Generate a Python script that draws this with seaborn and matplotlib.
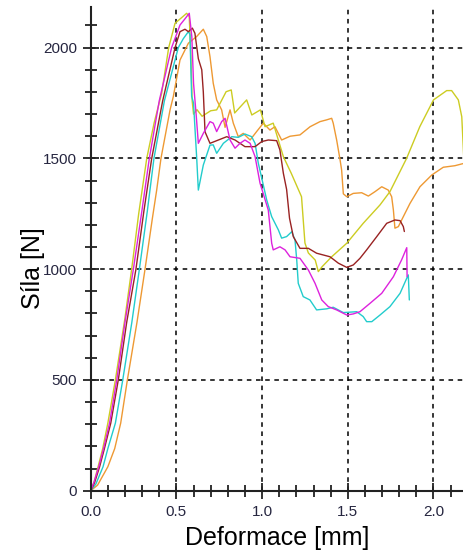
import matplotlib
matplotlib.use("Agg")
import matplotlib.pyplot as plt
import seaborn as sns
import pandas as pd
from matplotlib.ticker import MultipleLocator, FormatStrFormatter

# ---- data ----
yellow_x = [0, 0.02, 0.043, 0.07, 0.10, 0.144, 0.20, 0.239, 0.28, 0.327, 0.37, 0.414, 0.455, 0.492, 0.53, 0.56,
            0.575, 0.585, 0.592, 0.60, 0.62, 0.65, 0.70, 0.735, 0.79, 0.82, 0.84, 0.91, 0.94, 0.99, 1.017, 1.065,
            1.124, 1.17, 1.23, 1.25, 1.27, 1.31, 1.328, 1.35, 1.406, 1.494, 1.59, 1.688, 1.746, 1.843, 1.92, 2.0,
            2.077, 2.106, 2.145, 2.165, 2.18]
yellow_y = [0, 40, 108, 190, 305, 500, 780, 1000, 1250, 1500, 1660, 1794, 2000, 2110, 2135, 2155,
            2140, 1950, 1760, 1700, 1720, 1690, 1715, 1719, 1801, 1809, 1705, 1764, 1696, 1719, 1643, 1659,
            1508, 1433, 1327, 1118, 1073, 1041, 989, 1011, 1056, 1117, 1207, 1290, 1350, 1500, 1643, 1764,
            1806, 1806, 1764, 1688, 1450]

magenta_x = [0, 0.02, 0.047, 0.075, 0.11, 0.152, 0.20, 0.249, 0.30, 0.342, 0.40, 0.472, 0.521, 0.55, 0.575,
             0.59, 0.60, 0.615, 0.628, 0.657, 0.696, 0.715, 0.735, 0.764, 0.784, 0.813, 0.842, 0.871, 0.90,
             0.93, 0.959, 0.988, 1.007, 1.036, 1.056, 1.065, 1.104, 1.134, 1.163, 1.221, 1.27, 1.309, 1.348,
             1.386, 1.435, 1.494, 1.532, 1.571, 1.63, 1.698, 1.766, 1.814, 1.844, 1.846]
magenta_y = [0, 40, 108, 190, 305, 500, 760, 1000, 1270, 1500, 1760, 2000, 2102, 2130, 2155,
             2050, 1839, 1700, 1568, 1613, 1666, 1659, 1621, 1666, 1681, 1583, 1546, 1568, 1583,
             1568, 1508, 1388, 1340, 1267, 1117, 1087, 1101, 1087, 1056, 1049, 996, 936, 861,
             831, 816, 793, 798, 808, 846, 891, 966, 1042, 1097, 966]

brown_x = [0, 0.022, 0.052, 0.08, 0.117, 0.161, 0.21, 0.264, 0.31, 0.356, 0.42, 0.492, 0.521, 0.55, 0.57,
           0.593, 0.608, 0.628, 0.648, 0.657, 0.667, 0.696, 0.745, 0.794, 0.842, 0.90, 0.959, 0.998, 1.036,
           1.085, 1.104, 1.124, 1.143, 1.16, 1.182, 1.221, 1.27, 1.318, 1.396, 1.445, 1.494, 1.532, 1.571,
           1.61, 1.669, 1.727, 1.775, 1.805, 1.824, 1.83]
brown_y = [0, 35, 108, 190, 305, 500, 760, 1000, 1260, 1500, 1760, 2000, 2072, 2083, 2072,
           2088, 2065, 1950, 1900, 1800, 1620, 1568, 1583, 1598, 1583, 1553, 1553, 1576, 1583,
           1580, 1538, 1433, 1360, 1230, 1147, 1094, 1094, 1072, 1056, 1027, 1008, 1019, 1049,
           1087, 1147, 1207, 1222, 1219, 1192, 1170]

cyan_x = [0, 0.03, 0.072, 0.10, 0.144, 0.187, 0.24, 0.284, 0.33, 0.369, 0.43, 0.511, 0.54, 0.57, 0.579,
          0.589, 0.60, 0.608, 0.618, 0.628, 0.657, 0.696, 0.715, 0.735, 0.774, 0.823, 0.861, 0.90, 0.939,
          0.959, 0.978, 1.007, 1.027, 1.056, 1.095, 1.114, 1.143, 1.173, 1.192, 1.202, 1.211, 1.24, 1.279,
          1.318, 1.377, 1.415, 1.474, 1.552, 1.59, 1.61, 1.64, 1.688, 1.746, 1.805, 1.844, 1.853, 1.859]
cyan_y = [0, 30, 108, 190, 305, 500, 760, 1000, 1260, 1500, 1760, 2000, 2040, 2072, 2060,
          1780, 1750, 1640, 1508, 1357, 1470, 1560, 1561, 1523, 1568, 1598, 1595, 1610, 1598,
          1568, 1478, 1380, 1312, 1237, 1177, 1140, 1147, 1169, 1132, 1042, 936, 876, 861,
          816, 821, 828, 804, 808, 786, 763, 763, 793, 831, 891, 959, 974, 861]

orange_x = [0, 0.04, 0.10, 0.14, 0.175, 0.214, 0.27, 0.317, 0.36, 0.385, 0.41, 0.463, 0.482, 0.521, 0.57,
            0.618, 0.657, 0.677, 0.696, 0.715, 0.735, 0.764, 0.784, 0.813, 0.832, 0.861, 0.89, 0.93, 0.968,
            1.007, 1.046, 1.075, 1.114, 1.163, 1.221, 1.28, 1.338, 1.377, 1.406, 1.415, 1.435, 1.455, 1.464,
            1.474, 1.494, 1.532, 1.581, 1.62, 1.659, 1.698, 1.736, 1.756, 1.766, 1.775, 1.795, 1.824, 1.863,
            1.921, 1.99, 2.057, 2.125, 2.18]
orange_y = [0, 25, 108, 190, 305, 500, 760, 1000, 1230, 1357, 1500, 1719, 1779, 1944, 2020,
            2050, 2083, 2050, 1959, 1839, 1764, 1719, 1640, 1719, 1659, 1598, 1613, 1583, 1621,
            1659, 1628, 1643, 1583, 1600, 1606, 1643, 1666, 1674, 1681, 1659, 1583, 1493, 1448,
            1340, 1327, 1342, 1345, 1330, 1350, 1372, 1357, 1327, 1267, 1185, 1192, 1237, 1297,
            1372, 1425, 1460, 1467, 1478]

series_names = ["orange", "yellow", "cyan", "brown", "magenta"]
series_colors = {"orange": "#ee9933", "yellow": "#cccc22", "cyan": "#22cccc",
                 "brown": "#992222", "magenta": "#dd22dd"}

xs = {"orange": orange_x, "yellow": yellow_x, "cyan": cyan_x, "brown": brown_x, "magenta": magenta_x}
ys = {"orange": orange_y, "yellow": yellow_y, "cyan": cyan_y, "brown": brown_y, "magenta": magenta_y}

frames = []
for name in series_names:
    frames.append(pd.DataFrame({"x": xs[name], "y": ys[name], "s": name}))
df = pd.concat(frames, ignore_index=True)

sns.set_style("ticks")
plt.rcParams["font.family"] = ["Liberation Sans", "DejaVu Sans"]

fig = plt.figure(figsize=(4.64, 5.53), dpi=100)
ax = fig.add_axes([90.7 / 464, 1 - 490.7 / 553, (464 - 90.7) / 464, (490.7 - 7.3) / 553])

sns.lineplot(data=df, x="x", y="y", hue="s", palette=series_colors, hue_order=series_names,
             sort=False, estimator=None, units="s", lw=1.0, legend=False, ax=ax)

ax.set_xlim(0, 2.178)
ax.set_ylim(0, 2182)
ax.xaxis.set_major_locator(MultipleLocator(0.5))
ax.xaxis.set_minor_locator(MultipleLocator(0.1))
ax.yaxis.set_major_locator(MultipleLocator(500))
ax.yaxis.set_minor_locator(MultipleLocator(100))
ax.xaxis.set_major_formatter(FormatStrFormatter("%.1f"))

ax.grid(True, which="major", color="black", linestyle=(0, (3, 3)), lw=1.1)
for s in ["top", "right"]:
    ax.spines[s].set_visible(False)
for s in ["left", "bottom"]:
    ax.spines[s].set_linewidth(1.5)
    ax.spines[s].set_color("#222222")

ax.tick_params(which="major", direction="inout", length=12, width=1.3, color="#222222",
               labelsize=11, labelcolor="#262640", pad=4)
ax.tick_params(which="minor", direction="inout", length=9, width=1.3, color="#222222")

ax.set_xlabel("Deformace [mm]", fontsize=18, color="black")
ax.set_ylabel("Síla [N]", fontsize=18, color="black")
ax.xaxis.set_label_coords(0.5, -0.072)
ax.yaxis.set_label_coords(-0.122, 0.46)

fig.savefig("out.png", dpi=100)
